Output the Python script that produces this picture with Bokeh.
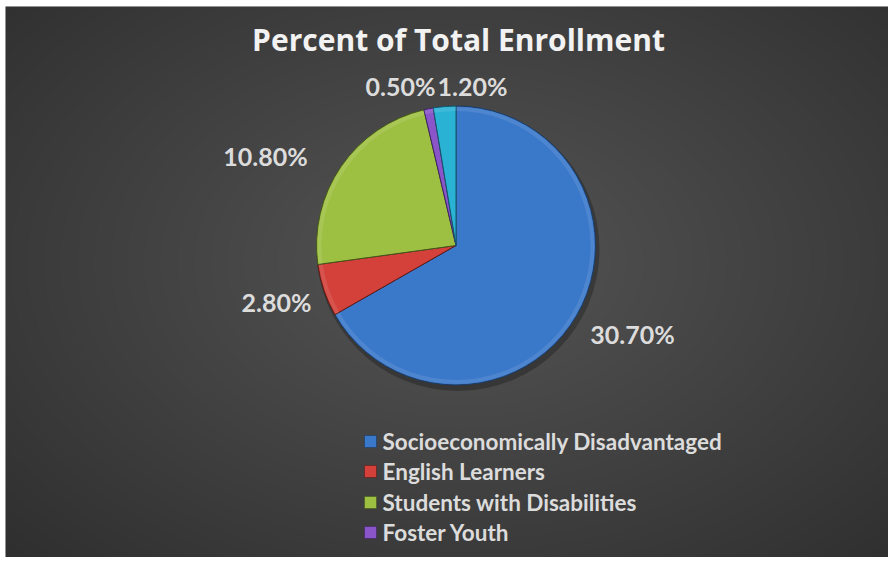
import math
from bokeh.plotting import figure
from bokeh.models import Range1d
from bokeh.core.properties import value
from bokeh.embed import file_html
from bokeh.resources import INLINE

# ---- data ----
categories = ["Socioeconomically Disadvantaged", "English Learners",
              "Students with Disabilities", "Foster Youth", ""]
percents = [30.70, 2.80, 10.80, 0.50, 1.20]
pct_labels = ["30.70%", "2.80%", "10.80%", "0.50%", "1.20%"]
legend_items = categories[:4]

# ---- style ----
colors = ["#3a78ca", "#d3413a", "#9ec042", "#8a55c8", "#2ab2d5"]
edges = ["#1c3b63", "#5e1b17", "#44561c", "#3d2563", "#12566a"]

FW, FH = 883, 551
p = figure(width=888, height=557, output_backend="svg", toolbar_location=None,
           x_range=Range1d(0, FW), y_range=Range1d(0, FH),
           min_border_left=5, min_border_top=6, min_border_right=0,
           min_border_bottom=0,
           background_fill_color="#272727",
           border_fill_color="white", outline_line_color=None)
p.axis.visible = False
p.grid.visible = False

# radial background glow (decoration)
N = 45
for i in range(N):
    t = 1 - i / N
    p.ellipse(x=455, y=295, width=1500 * t, height=1000 * t,
              fill_color="white", fill_alpha=0.0064, line_color=None)

cx, cy, r = 450.5, 312, 139.5
total = sum(percents)
starts, ends = [], []
acc = 0.0
for v in percents:
    starts.append(math.pi / 2 - acc / total * 2 * math.pi)
    acc += v
    ends.append(math.pi / 2 - acc / total * 2 * math.pi)

# soft shadow
p.circle(x=cx + 2, y=cy - 4, radius=r + 2, fill_color="black",
         fill_alpha=0.25, line_color=None)

for i in range(len(percents)):
    p.wedge(x=cx, y=cy, radius=r, start_angle=starts[i], end_angle=ends[i],
            direction="clock", fill_color=colors[i], line_color=edges[i],
            line_width=1)
    # light inner rim (bevel)
    p.annular_wedge(x=cx, y=cy, inner_radius=r - 5, outer_radius=r - 1,
                    start_angle=starts[i], end_angle=ends[i], direction="clock",
                    fill_color="white", fill_alpha=0.10, line_color=None)

# data labels
label_off = [(176.5, -88), (-179.5, -56), (-190.5, 90), (-55.5, 160), (16.5, 160)]
for i, txt in enumerate(pct_labels):
    dx, dy = label_off[i]
    p.text(x=[cx + dx], y=[cy + dy], text=[txt], text_align="center",
           text_baseline="middle", text_font=value("Lato"),
           text_font_style="bold", text_font_size="25px", text_color="#dcdcdc")

# title
p.text(x=[453], y=[518], text=["Percent of Total Enrollment"],
       text_align="center", text_baseline="middle", text_font=value("Open Sans"),
       text_font_style="bold", text_font_size="30px", text_color="#f2f2f2")

# legend (first four entries visible)
ly = [116, 86, 55, 25]
for i, name in enumerate(legend_items):
    p.scatter(x=[365], y=[ly[i]], marker="square", size=12,
              fill_color=colors[i], line_color=edges[i], line_width=0.6)
    p.text(x=[377], y=[ly[i]], text=[name], text_align="left",
           text_baseline="middle", text_font=value("Lato"),
           text_font_style="bold", text_font_size="22.5px", text_color="#dcdcdc")

open("out.html", "w").write(file_html(p, INLINE))
